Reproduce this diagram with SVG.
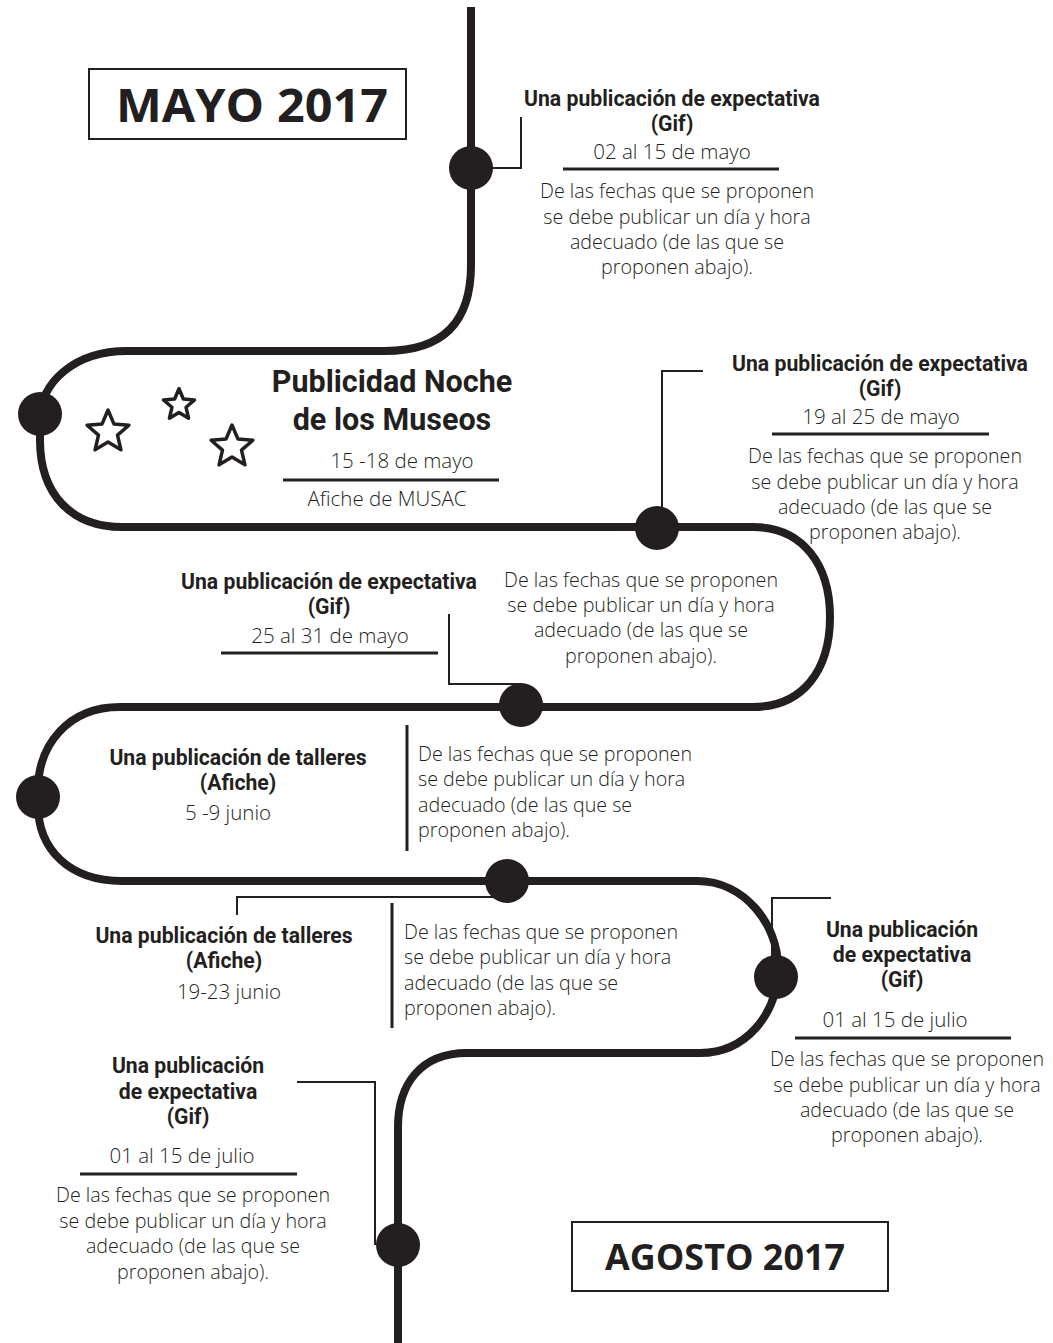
<svg xmlns="http://www.w3.org/2000/svg" xmlns:xlink="http://www.w3.org/1999/xlink" width="1053" height="1343" viewBox="0 0 1053 1343">
<style>
.bg{fill:#ffffff}
.track{fill:none;stroke:#231f20;stroke-width:8}
.dot{fill:#231f20}
.conn{fill:none;stroke:#231f20;stroke-width:2}
.bar{stroke:#231f20;stroke-width:3}
.rule{stroke:#231f20;stroke-width:3}
.box{fill:#ffffff;stroke:#231f20;stroke-width:2}
.month{font-family:"Open Sans","Liberation Sans",sans-serif;font-weight:700;fill:#231f20}
.ttl{font-family:Roboto,"Liberation Sans",sans-serif;font-weight:700;font-size:21.2px;fill:#231f20;text-anchor:middle}
.big{font-family:Roboto,"Liberation Sans",sans-serif;font-weight:700;font-size:30.5px;fill:#231f20;text-anchor:middle}
.date{font-family:"Open Sans","Liberation Sans",sans-serif;font-weight:300;font-size:20.5px;fill:#231f20;text-anchor:middle}
.body{font-family:"Open Sans","Liberation Sans",sans-serif;font-weight:300;font-size:19.7px;fill:#231f20;text-anchor:middle}
.left{text-anchor:start}
.star{fill:none;stroke:#231f20;stroke-width:3.5;stroke-linejoin:round}
</style>
<defs>
<path id="star" class="star" vector-effect="non-scaling-stroke" d="M0,-22 L5.88,-8.09 L20.92,-6.8 L9.51,3.09 L12.94,17.8 L0,10 L-12.94,17.8 L-9.51,3.09 L-20.92,-6.8 L-5.88,-8.09 Z"/>
</defs>
<rect class="bg" x="0" y="0" width="1053" height="1343"/>

<g id="track">
<path class="track" d="M471,7 V265 C471,320 445,351 385,351 H127 C75,351 40,382 40,420 V440 C40,495 72,527 122,527 H753 C803,527 830,565 830,617 C830,670 803,707 753,707 H120 C68,707 38,745 38,790 V805 C38,850 70,881 122,881 H697 C745,881 778,925 778,967 C778,1015 745,1053 700,1053 H467 C420,1053 398,1085 398,1127 V1343"/>
</g>

<g id="connectors">
<polyline class="conn" points="471,168 521,168 521,117"/>
<polyline class="conn" points="703,371 662,371 662,528"/>
<polyline class="conn" points="449,614 449,684 521,684"/>
<polyline class="conn" points="237,915 237,897 507,897"/>
<polyline class="conn" points="831,898 772,898 772,977"/>
<polyline class="conn" points="297,1082 375,1082 375,1245"/>
</g>

<g id="nodes">
<circle class="dot" cx="471" cy="168" r="22"/>
<circle class="dot" cx="40" cy="414" r="22"/>
<circle class="dot" cx="657" cy="528" r="22"/>
<circle class="dot" cx="521" cy="705" r="22"/>
<circle class="dot" cx="38" cy="797" r="22"/>
<circle class="dot" cx="507" cy="881" r="22"/>
<circle class="dot" cx="776" cy="977" r="22"/>
<circle class="dot" cx="398" cy="1245" r="22"/>
</g>

<g id="mayo">
<rect class="box" x="89" y="69" width="317" height="70"/>
<text class="month" x="252" y="122" font-size="47" text-anchor="middle" textLength="272" lengthAdjust="spacingAndGlyphs">MAYO 2017</text>
</g>

<g id="agosto">
<rect class="box" x="572" y="1222" width="316" height="69"/>
<text class="month" x="725" y="1270" font-size="36" text-anchor="middle" textLength="240" lengthAdjust="spacingAndGlyphs">AGOSTO 2017</text>
</g>

<g id="item1">
<text class="ttl" x="672" y="106">Una publicación de expectativa</text>
<text class="ttl" x="672" y="131">(Gif)</text>
<text class="date" x="672" y="159">02 al 15 de mayo</text>
<line class="rule" x1="563" y1="169" x2="779" y2="169"/>
<text class="body" x="677" y="198">De las fechas que se proponen</text>
<text class="body" x="677" y="224">se debe publicar un día y hora</text>
<text class="body" x="677" y="249">adecuado (de las que se</text>
<text class="body" x="677" y="274">proponen abajo).</text>
</g>

<g id="noche">
<use xlink:href="#star" href="#star" transform="translate(108,432)"/>
<use xlink:href="#star" href="#star" transform="translate(179,405) scale(0.74)"/>
<use xlink:href="#star" href="#star" transform="translate(232,447)"/>
<text class="big" x="392" y="392">Publicidad Noche</text>
<text class="big" x="392" y="430">de los Museos</text>
<text class="date" x="402" y="468">15 -18 de mayo</text>
<line class="rule" x1="283" y1="480" x2="499" y2="480"/>
<text class="date" x="387" y="506">Afiche de MUSAC</text>
</g>

<g id="item2">
<text class="ttl" x="880" y="371">Una publicación de expectativa</text>
<text class="ttl" x="880" y="396">(Gif)</text>
<text class="date" x="881" y="424">19 al 25 de mayo</text>
<line class="rule" x1="772" y1="434" x2="989" y2="434"/>
<text class="body" x="885" y="463">De las fechas que se proponen</text>
<text class="body" x="885" y="489">se debe publicar un día y hora</text>
<text class="body" x="885" y="514">adecuado (de las que se</text>
<text class="body" x="885" y="539">proponen abajo).</text>
</g>

<g id="item3">
<text class="ttl" x="329" y="589">Una publicación de expectativa</text>
<text class="ttl" x="329" y="614">(Gif)</text>
<text class="date" x="330" y="643">25 al 31 de mayo</text>
<line class="rule" x1="221" y1="653" x2="438" y2="653"/>
<text class="body" x="641" y="587">De las fechas que se proponen</text>
<text class="body" x="641" y="612">se debe publicar un día y hora</text>
<text class="body" x="641" y="637">adecuado (de las que se</text>
<text class="body" x="641" y="663">proponen abajo).</text>
</g>

<g id="item4">
<text class="ttl" x="238" y="765">Una publicación de talleres</text>
<text class="ttl" x="238" y="790">(Afiche)</text>
<text class="date" x="228" y="820">5 -9 junio</text>
<line class="bar" x1="407" y1="725" x2="407" y2="851"/>
<text class="body left" x="418" y="761">De las fechas que se proponen</text>
<text class="body left" x="418" y="786">se debe publicar un día y hora</text>
<text class="body left" x="418" y="812">adecuado (de las que se</text>
<text class="body left" x="418" y="837">proponen abajo).</text>
</g>

<g id="item5">
<text class="ttl" x="224" y="943">Una publicación de talleres</text>
<text class="ttl" x="224" y="968">(Afiche)</text>
<text class="date" x="229" y="999">19-23 junio</text>
<line class="bar" x1="392" y1="903" x2="392" y2="1028"/>
<text class="body left" x="404" y="939">De las fechas que se proponen</text>
<text class="body left" x="404" y="964">se debe publicar un día y hora</text>
<text class="body left" x="404" y="990">adecuado (de las que se</text>
<text class="body left" x="404" y="1015">proponen abajo).</text>
</g>

<g id="item6">
<text class="ttl" x="902" y="937">Una publicación</text>
<text class="ttl" x="902" y="962">de expectativa</text>
<text class="ttl" x="902" y="987">(Gif)</text>
<text class="date" x="895" y="1027">01 al 15 de julio</text>
<line class="rule" x1="795" y1="1038" x2="1011" y2="1038"/>
<text class="body" x="907" y="1066">De las fechas que se proponen</text>
<text class="body" x="907" y="1092">se debe publicar un día y hora</text>
<text class="body" x="907" y="1117">adecuado (de las que se</text>
<text class="body" x="907" y="1142">proponen abajo).</text>
</g>

<g id="item7">
<text class="ttl" x="188" y="1073">Una publicación</text>
<text class="ttl" x="188" y="1099">de expectativa</text>
<text class="ttl" x="188" y="1124">(Gif)</text>
<text class="date" x="182" y="1163">01 al 15 de julio</text>
<line class="rule" x1="80" y1="1174" x2="297" y2="1174"/>
<text class="body" x="193" y="1202">De las fechas que se proponen</text>
<text class="body" x="193" y="1228">se debe publicar un día y hora</text>
<text class="body" x="193" y="1253">adecuado (de las que se</text>
<text class="body" x="193" y="1279">proponen abajo).</text>
</g>
</svg>
